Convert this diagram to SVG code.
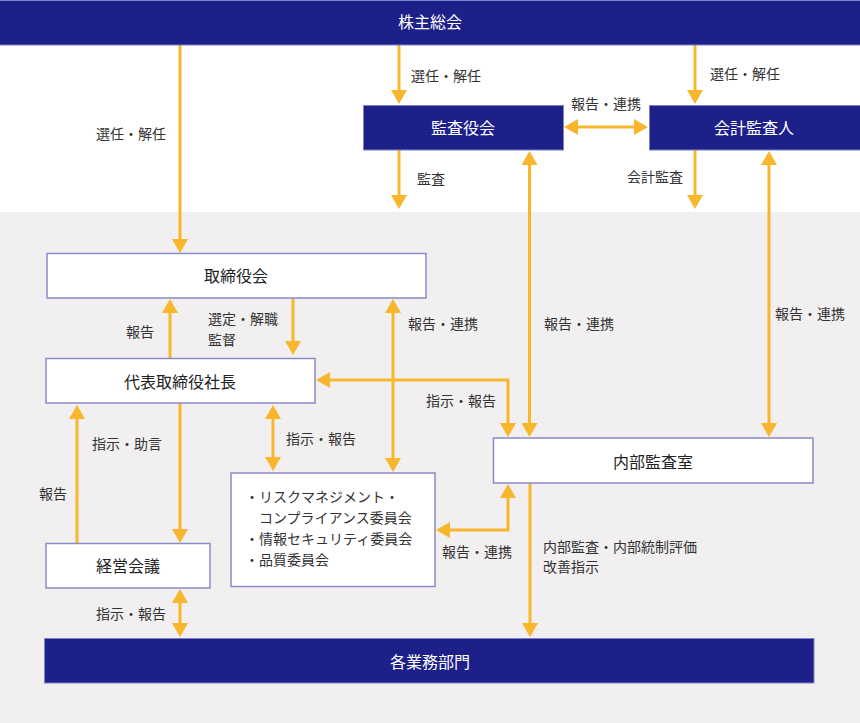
<svg xmlns="http://www.w3.org/2000/svg" width="860" height="723" viewBox="0 0 860 723">
<style>
text{font-family:"Noto Sans CJK JP","Noto Sans",sans-serif;}
.dk{fill:#1d2088;stroke:#7f82c4;stroke-width:1;}
.wb{fill:#ffffff;stroke:#8a8ac6;stroke-width:1.5;}
.tw{fill:#ffffff;font-size:16px;text-anchor:middle;dominant-baseline:central;}
.tb{fill:#222222;font-size:16px;text-anchor:middle;dominant-baseline:central;}
.lb{fill:#333333;font-size:14px;dominant-baseline:central;}
.ar{fill:none;stroke:#f8b62d;stroke-width:3;}
</style>
<defs>
<marker id="ah" markerUnits="userSpaceOnUse" markerWidth="14" markerHeight="16" refX="3" refY="8" orient="auto-start-reverse" viewBox="0 0 14 16">
<path d="M0,0 L14,8 L0,16 z" fill="#f8b62d"/>
</marker>
</defs>
<rect x="0" y="0" width="860" height="723" fill="#ffffff"/>
<rect x="0" y="212" width="860" height="511" fill="#f1eff0"/>

<g id="connectors">
<path class="ar" d="M180,45 V242" marker-end="url(#ah)"/>
<path class="ar" d="M399,45 V93" marker-end="url(#ah)"/>
<path class="ar" d="M695,45 V93" marker-end="url(#ah)"/>
<path class="ar" d="M399,150 V198" marker-end="url(#ah)"/>
<path class="ar" d="M695,150 V198" marker-end="url(#ah)"/>
<path class="ar" d="M575,127 H637" marker-start="url(#ah)" marker-end="url(#ah)"/>
<path class="ar" d="M529.5,162 V426" marker-start="url(#ah)" marker-end="url(#ah)"/>
<path class="ar" d="M769,162 V426" marker-start="url(#ah)" marker-end="url(#ah)"/>
<path class="ar" d="M170,358 V310" marker-end="url(#ah)"/>
<path class="ar" d="M293,298 V344" marker-end="url(#ah)"/>
<path class="ar" d="M393,310 V461" marker-start="url(#ah)" marker-end="url(#ah)"/>
<path class="ar" d="M327,380 H508 V426" marker-start="url(#ah)" marker-end="url(#ah)"/>
<path class="ar" d="M180,403 V532" marker-end="url(#ah)"/>
<path class="ar" d="M77,543 V416" marker-end="url(#ah)"/>
<path class="ar" d="M273,416 V460" marker-start="url(#ah)" marker-end="url(#ah)"/>
<path class="ar" d="M180,600 V626" marker-start="url(#ah)" marker-end="url(#ah)"/>
<path class="ar" d="M530,483 V626" marker-end="url(#ah)"/>
<path class="ar" d="M508,495 V530 H447" marker-start="url(#ah)" marker-end="url(#ah)"/>
</g>

<g id="labels">
<text class="lb" x="96" y="133">選任・解任</text>
<text class="lb" x="411" y="75">選任・解任</text>
<text class="lb" x="710" y="73">選任・解任</text>
<text class="lb" x="571" y="103">報告・連携</text>
<text class="lb" x="417" y="178">監査</text>
<text class="lb" x="627" y="176">会計監査</text>
<text class="lb" x="544" y="323">報告・連携</text>
<text class="lb" x="775" y="313">報告・連携</text>
<text class="lb" x="126" y="331">報告</text>
<text class="lb" x="208" y="318">選定・解職</text>
<text class="lb" x="208" y="339">監督</text>
<text class="lb" x="408" y="323">報告・連携</text>
<text class="lb" x="426" y="400">指示・報告</text>
<text class="lb" x="92" y="443">指示・助言</text>
<text class="lb" x="286" y="438">指示・報告</text>
<text class="lb" x="39" y="493">報告</text>
<text class="lb" x="96" y="613">指示・報告</text>
<text class="lb" x="442" y="551">報告・連携</text>
<text class="lb" x="543" y="546">内部監査・内部統制評価</text>
<text class="lb" x="543" y="566">改善指示</text>
</g>

<g id="n-shareholders">
<rect class="dk" x="-1" y="0.5" width="862" height="44.5"/>
<text class="tw" x="430" y="21">株主総会</text>
</g>
<g id="n-kansayakukai">
<rect class="dk" x="363.5" y="105.5" width="200" height="44.5"/>
<text class="tw" x="463" y="127">監査役会</text>
</g>
<g id="n-kaikeikansanin">
<rect class="dk" x="649.5" y="105.5" width="212" height="44.5"/>
<text class="tw" x="754" y="127">会計監査人</text>
</g>
<g id="n-torishimariyakukai">
<rect class="wb" x="47" y="253.5" width="379" height="44.5"/>
<text class="tb" x="236" y="275">取締役会</text>
</g>
<g id="n-president">
<rect class="wb" x="46" y="358.5" width="269" height="44.5"/>
<text class="tb" x="180" y="381">代表取締役社長</text>
</g>
<g id="n-naibukansashitsu">
<rect class="wb" x="493.5" y="438" width="319.5" height="45"/>
<text class="tb" x="653" y="461">内部監査室</text>
</g>
<g id="n-committees">
<rect class="wb" x="231" y="473" width="204" height="113.5"/>
<text class="lb" x="245" y="496">・リスクマネジメント・</text>
<text class="lb" x="259" y="517">コンプライアンス委員会</text>
<text class="lb" x="245" y="538">・情報セキュリティ委員会</text>
<text class="lb" x="245" y="559">・品質委員会</text>
</g>
<g id="n-keieikaigi">
<rect class="wb" x="46" y="543.5" width="164" height="44.5"/>
<text class="tb" x="128" y="565">経営会議</text>
</g>
<g id="n-departments">
<rect class="dk" x="44.5" y="638.5" width="769.5" height="44.5"/>
<text class="tw" x="430" y="661">各業務部門</text>
</g>
</svg>
